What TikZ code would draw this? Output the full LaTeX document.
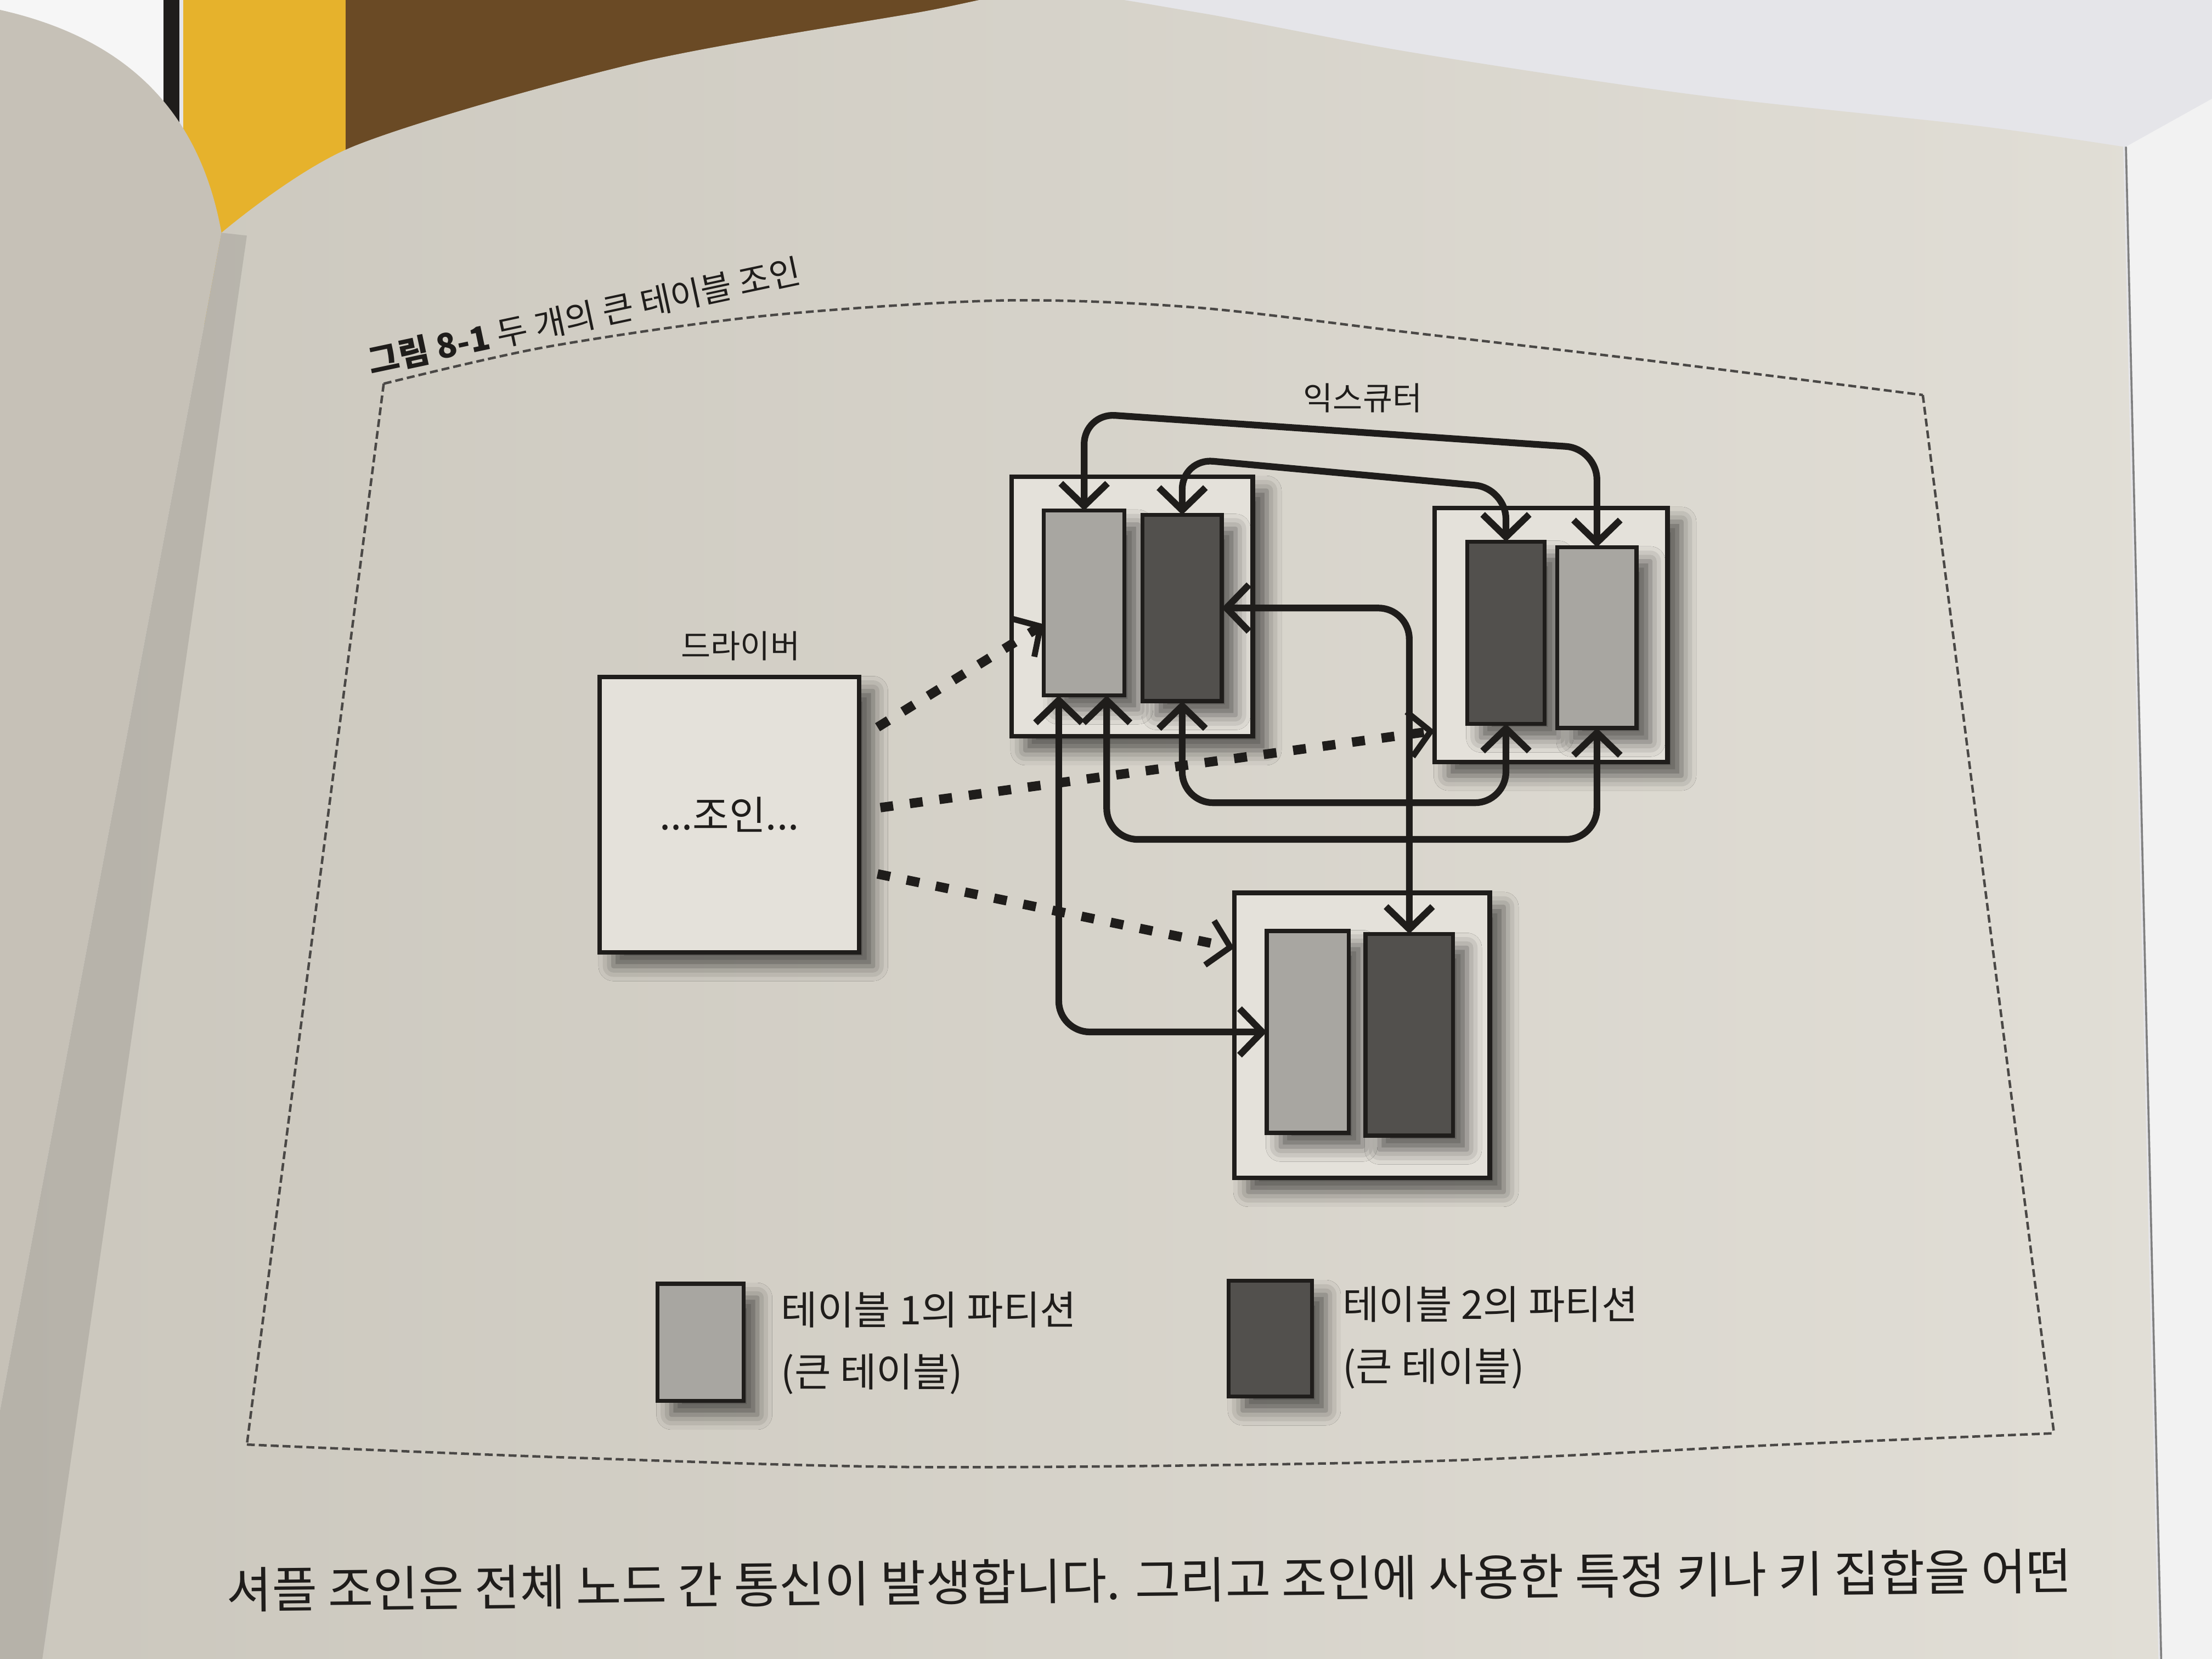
\documentclass[tikz,border=0pt]{standalone}
\usepackage{fontspec}
\setmainfont{Noto Sans CJK KR}
\usetikzlibrary{arrows.meta,shadows.blur,calc}
\definecolor{ink}{HTML}{1F1D1B}
\definecolor{pageA}{HTML}{E1DED6}
\definecolor{pageB}{HTML}{CBC7BD}
\definecolor{leftpage}{HTML}{C6C1B7}
\definecolor{wood}{HTML}{6A4A25}
\definecolor{yel}{HTML}{E6B22C}
\definecolor{sheet}{HTML}{E5E5E9}
\definecolor{boxc}{HTML}{E4E1DA}
\definecolor{lightp}{HTML}{A8A6A1}
\definecolor{darkp}{HTML}{52504D}
\definecolor{framec}{HTML}{4A4846}
\begin{document}
\begin{tikzpicture}[x=0.01cm,y=-0.01cm,
  shadowed/.style={blur shadow={shadow xshift=2.8pt,shadow yshift=-2.8pt,shadow blur radius=3pt,shadow opacity=60}},
  exbox/.style={draw=ink,line width=0.9pt,fill=boxc,inner sep=0pt,outer sep=0pt,shadowed},
  lightpart/.style={draw=ink,line width=0.8pt,fill=lightp,inner sep=0pt,outer sep=0pt,shadowed},
  darkpart/.style={draw=ink,line width=0.8pt,fill=darkp,inner sep=0pt,outer sep=0pt,shadowed},
  lbl/.style={text=ink,font=\fontsize{6.5}{8}\selectfont,inner sep=1pt},
  legtext/.style={text=ink,font=\fontsize{8}{12.5}\selectfont,align=left,anchor=west,inner sep=0pt},
  flowarrow/.style={draw=ink,line width=1.35pt,rounded corners=0.22cm,
    arrows={Straight Barb[length=1.6mm,width=3.3mm]-Straight Barb[length=1.6mm,width=3.3mm]}},
  dotarrow/.style={draw=ink,line width=1.9pt,dash pattern=on 2.6pt off 3.4pt,
    arrows={-Straight Barb[length=1.5mm,width=3.2mm,line width=1.2pt]}},
  frm/.style={draw=framec,line width=0.5pt,dash pattern=on 1.6pt off 0.8pt}
]
\useasboundingbox (0,0) rectangle (1568,1176);

% ---------- photo background ----------
\fill[sheet] (0,0) rectangle (1568,1176);
\fill[white!93!gray] (0,0) rectangle (120,90);
\fill[wood] (240,0) rectangle (770,230);
\fill[yel] (130,0) rectangle (245,230);
\fill[ink] (116,0) rectangle (127,95);
\fill[leftpage] (0,7) .. controls (80,25) and (140,70) .. (157,165) -- (0,1000) -- cycle;
\shade[left color=pageB,right color=pageA]
  plot[smooth] coordinates {(157,165) (250,104) (450,45) (650,9) (740,-6) (850,9) (1000,37) (1200,67) (1400,89) (1505,104)}
  -- (1530,1176) -- (0,1176) -- (0,1000) -- cycle;
\fill[black,opacity=0.10] (157,165) -- (175,167) -- (30,1176) -- (0,1176) -- (0,1000) -- cycle;
\fill[white!90!gray] (1507,104) -- (1568,70) -- (1568,1176) -- (1532,1176) -- cycle;
\draw[gray,line width=0.4pt] (1507,104) -- (1532,1176);

% ---------- caption and frame ----------
\node[rotate=12,text=ink,font=\fontsize{6.8}{8}\selectfont,inner sep=0pt] (cap) at (414,224)
  {\textbf{그림 8-1} 두 개의 큰 테이블 조인};
\draw[frm] plot[smooth] coordinates {(272,272) (387,246) (541,224) (710,213) (848,218) (1002,236) (1156,254) (1363,280)};
\draw[frm] (1363,280) -- (1456,1016);
\draw[frm] plot[smooth] coordinates {(175,1024) (397,1033) (657,1040) (1004,1036) (1265,1024) (1456,1016)};
\draw[frm] (272,272) -- (175,1024);

% ---------- labels ----------
\node[lbl] (exlbl) at (966,282) {익스큐터};
\node[lbl] (drvlbl) at (525,458) {드라이버};

% ---------- executors ----------
\node[exbox,minimum width=1.71cm,minimum height=1.84cm] (ex1) at (802.5,430) {};
\node[lightpart,minimum width=0.57cm,minimum height=1.31cm] (a1) at (768.5,427.5) {};
\node[darkpart,minimum width=0.56cm,minimum height=1.32cm] (b1) at (838,431) {};

\node[exbox,minimum width=1.65cm,minimum height=1.80cm] (ex2) at (1099.5,450) {};
\node[darkpart,minimum width=0.55cm,minimum height=1.29cm] (b2) at (1067.5,448.5) {};
\node[lightpart,minimum width=0.56cm,minimum height=1.28cm] (a2) at (1132,452) {};

\node[exbox,minimum width=1.81cm,minimum height=2.02cm] (ex3) at (965.5,734) {};
\node[lightpart,minimum width=0.58cm,minimum height=1.43cm] (a3) at (927,731.5) {};
\node[darkpart,minimum width=0.62cm,minimum height=1.43cm] (b3) at (999,733.5) {};

% ---------- driver ----------
\node[exbox,minimum width=1.84cm,minimum height=1.95cm,text=ink,font=\fontsize{8}{9}\selectfont] (driver) at (517,577.5) {...조인...};

% ---------- shuffle connectors ----------
\draw[flowarrow] (a1.north) -- ++(0,-69) -- ($(a2.north)+(0,-70)$) -- (a2.north);
\draw[flowarrow] (b1.north) -- ++(0,-40) -- ($(b2.north)+(0,-38)$) -- (b2.north);
\draw[flowarrow] (b1.east) -| (b3.north);
\draw[flowarrow] ($(a1.south)+(-18,0)$) |- (a3.west);
\draw[flowarrow] ($(a1.south)+(16,0)$) -- ++(0,102) -| (a2.south);
\draw[flowarrow] (b1.south) -- ++(0,72) -| (b2.south);

% ---------- driver to executors ----------
\draw[dotarrow] ($(driver.east)+(13,-62)$) -- ($(a1.west)+(0,15)$);
\draw[dotarrow] ($(driver.east)+(15,-5)$) -- ($(ex2.west)+(0,68)$);
\draw[dotarrow] ($(driver.east)+(13,42)$) -- ($(ex3.west)+(0,-62)$);

% ---------- legend ----------
\node[lightpart,minimum width=0.61cm,minimum height=0.83cm] (leg1) at (496.5,951.5) {};
\node[legtext] (leg1t) at (553,952) {테이블 1의 파티션\\(큰 테이블)};
\node[darkpart,minimum width=0.59cm,minimum height=0.82cm] (leg2) at (900.5,949) {};
\node[legtext] (leg2t) at (951,948) {테이블 2의 파티션\\(큰 테이블)};

% ---------- page text ----------
\node[anchor=west,rotate=0.6,text=ink,inner sep=0pt] (body) at (160,1127)
  {\resizebox{13.07cm}{!}{\fontsize{10}{12}\selectfont 셔플 조인은 전체 노드 간 통신이 발생합니다. 그리고 조인에 사용한 특정 키나 키 집합을 어떤}};
\end{tikzpicture}
\end{document}
